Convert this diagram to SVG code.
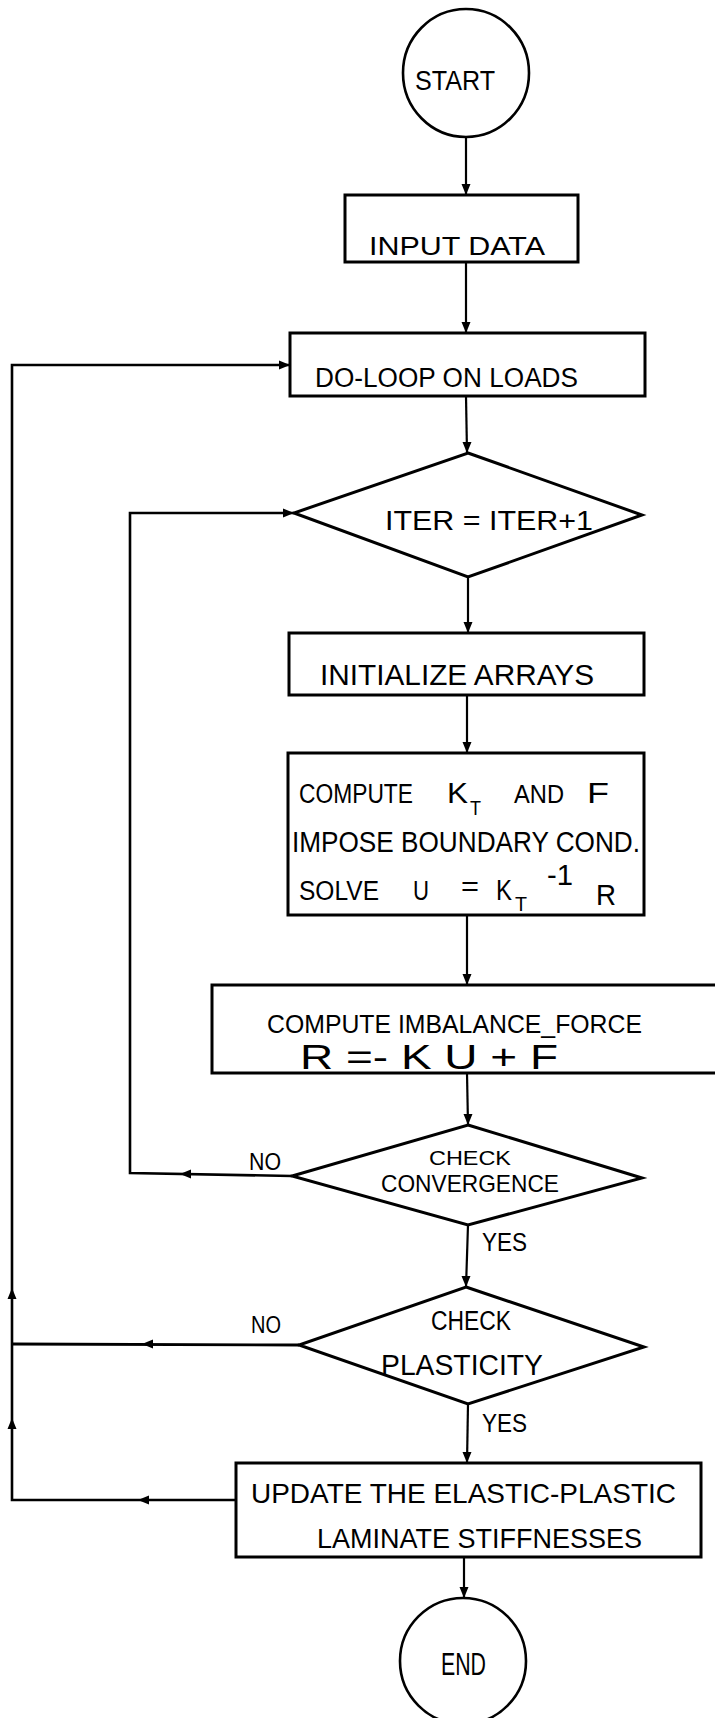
<svg xmlns="http://www.w3.org/2000/svg" width="715" height="1718" viewBox="0 0 715 1718">
<style>
.sh{fill:none;stroke:#000;stroke-width:3;stroke-linejoin:miter}
.cn{fill:none;stroke:#000;stroke-width:2.2}
.t{font-family:"Liberation Sans",Arial,sans-serif;fill:#000}
</style>
<defs>
<path id="ah" d="M0,0 L-11,-4.5 L-11,4.5 Z" fill="#000"/>
</defs>
<rect width="715" height="1718" fill="#fff"/>

<g id="connectors">
<line class="cn" x1="466" y1="137" x2="466" y2="195"/>
<use href="#ah" transform="translate(466,195) rotate(90)"/>
<line class="cn" x1="466" y1="262" x2="466" y2="333"/>
<use href="#ah" transform="translate(466,333) rotate(90)"/>
<line class="cn" x1="466" y1="396" x2="467" y2="453"/>
<use href="#ah" transform="translate(467,453) rotate(90)"/>
<line class="cn" x1="468" y1="577" x2="468" y2="633"/>
<use href="#ah" transform="translate(468,633) rotate(90)"/>
<line class="cn" x1="467" y1="695" x2="467" y2="753"/>
<use href="#ah" transform="translate(467,753) rotate(90)"/>
<line class="cn" x1="467" y1="915" x2="467" y2="985"/>
<use href="#ah" transform="translate(467,985) rotate(90)"/>
<line class="cn" x1="467" y1="1073" x2="468" y2="1125"/>
<use href="#ah" transform="translate(468,1125) rotate(90)"/>
<line class="cn" x1="468" y1="1225" x2="466" y2="1287"/>
<use href="#ah" transform="translate(466,1287) rotate(90)"/>
<line class="cn" x1="468" y1="1404" x2="467" y2="1463"/>
<use href="#ah" transform="translate(467,1463) rotate(90)"/>
<line class="cn" x1="464" y1="1558" x2="464" y2="1598"/>
<use href="#ah" transform="translate(464,1598) rotate(90)"/>
<!-- inner loop -->
<polyline class="cn" points="292,1176 130,1173 130,513 294,513" style="stroke-width:2.6"/>
<use href="#ah" transform="translate(180,1174) rotate(180)"/>
<use href="#ah" transform="translate(294,513)"/>
<!-- outer loop -->
<polyline class="cn" points="299,1345 12,1344" style="stroke-width:2.8"/>
<polyline class="cn" points="236,1500 12,1500 12,365 290,365" style="stroke-width:2.6"/>
<use href="#ah" transform="translate(142,1344) rotate(180)"/>
<use href="#ah" transform="translate(138,1500) rotate(180)"/>
<use href="#ah" transform="translate(12,1288) rotate(-90)"/>
<use href="#ah" transform="translate(12,1418) rotate(-90)"/>
<use href="#ah" transform="translate(290,365)"/>
<text class="t" x="249" y="1170" font-size="24" textLength="32" lengthAdjust="spacingAndGlyphs">NO</text>
<text class="t" x="251" y="1333" font-size="24" textLength="30" lengthAdjust="spacingAndGlyphs">NO</text>
<text class="t" x="482" y="1251" font-size="25" textLength="45" lengthAdjust="spacingAndGlyphs">YES</text>
<text class="t" x="482" y="1432" font-size="25" textLength="45" lengthAdjust="spacingAndGlyphs">YES</text>
</g>

<g id="start">
<ellipse class="sh" cx="466" cy="73" rx="63" ry="64" style="stroke-width:2.6"/>
<text class="t" x="415" y="90" font-size="27" textLength="80" lengthAdjust="spacingAndGlyphs">START</text>
</g>

<g id="input">
<rect class="sh" x="345" y="195" width="233" height="67"/>
<text class="t" x="369" y="255" font-size="25" textLength="176" lengthAdjust="spacingAndGlyphs">INPUT  DATA</text>
</g>

<g id="doloop">
<rect class="sh" x="290" y="333" width="355" height="63"/>
<text class="t" x="315" y="387" font-size="27" textLength="263" lengthAdjust="spacingAndGlyphs">DO-LOOP ON LOADS</text>
</g>

<g id="iter">
<polygon class="sh" points="468,453 642,515 468,577 294,513"/>
<text class="t" x="385" y="530" font-size="27" textLength="208" lengthAdjust="spacingAndGlyphs">ITER = ITER+1</text>
</g>

<g id="init">
<rect class="sh" x="289" y="633" width="355" height="62"/>
<text class="t" x="320" y="685" font-size="29" textLength="274" lengthAdjust="spacingAndGlyphs">INITIALIZE ARRAYS</text>
</g>

<g id="compute">
<rect class="sh" x="288" y="753" width="356" height="162"/>
<text class="t" x="299" y="803" font-size="27" textLength="114" lengthAdjust="spacingAndGlyphs">COMPUTE</text>
<text class="t" x="447" y="803" font-size="30" textLength="21" lengthAdjust="spacingAndGlyphs">K</text>
<text class="t" x="470" y="815" font-size="20" textLength="11" lengthAdjust="spacingAndGlyphs">T</text>
<text class="t" x="514" y="803" font-size="25" textLength="50" lengthAdjust="spacingAndGlyphs">AND</text>
<text class="t" x="587" y="803" font-size="30" textLength="22" lengthAdjust="spacingAndGlyphs">F</text>
<text class="t" x="292" y="852" font-size="29" textLength="348" lengthAdjust="spacingAndGlyphs">IMPOSE BOUNDARY COND.</text>
<text class="t" x="299" y="900" font-size="27" textLength="80" lengthAdjust="spacingAndGlyphs">SOLVE</text>
<text class="t" x="413" y="900" font-size="27" textLength="16" lengthAdjust="spacingAndGlyphs">U</text>
<text class="t" x="461" y="896" font-size="27" textLength="18" lengthAdjust="spacingAndGlyphs">=</text>
<text class="t" x="496" y="900" font-size="30" textLength="16" lengthAdjust="spacingAndGlyphs">K</text>
<text class="t" x="515" y="911" font-size="20" textLength="12" lengthAdjust="spacingAndGlyphs">T</text>
<text class="t" x="547" y="885" font-size="30" textLength="26" lengthAdjust="spacingAndGlyphs">-1</text>
<text class="t" x="596" y="905" font-size="30" textLength="20" lengthAdjust="spacingAndGlyphs">R</text>
</g>

<g id="imbalance">
<rect class="sh" x="212" y="985" width="520" height="88"/>
<text class="t" x="267" y="1033" font-size="25" textLength="375" lengthAdjust="spacingAndGlyphs">COMPUTE  IMBALANCE_FORCE</text>
<text class="t" x="300" y="1069" font-size="35" textLength="258" lengthAdjust="spacingAndGlyphs">R  =- K  U   +  F</text>
</g>

<g id="convergence">
<polygon class="sh" points="468,1125 642,1178 468,1225 292,1176"/>
<text class="t" x="429" y="1165" font-size="20" textLength="82" lengthAdjust="spacingAndGlyphs">CHECK</text>
<text class="t" x="381" y="1192" font-size="24" textLength="178" lengthAdjust="spacingAndGlyphs">CONVERGENCE</text>
</g>

<g id="plasticity">
<polygon class="sh" points="466,1287 644,1347 468,1404 299,1345"/>
<text class="t" x="431" y="1330" font-size="27" textLength="80" lengthAdjust="spacingAndGlyphs">CHECK</text>
<text class="t" x="381" y="1375" font-size="29" textLength="162" lengthAdjust="spacingAndGlyphs">PLASTICITY</text>
</g>

<g id="update">
<rect class="sh" x="236" y="1463" width="465" height="94"/>
<text class="t" x="251" y="1503" font-size="28" textLength="425" lengthAdjust="spacingAndGlyphs">UPDATE THE ELASTIC-PLASTIC</text>
<text class="t" x="317" y="1548" font-size="27" textLength="325" lengthAdjust="spacingAndGlyphs">LAMINATE STIFFNESSES</text>
</g>

<g id="end">
<ellipse class="sh" cx="463" cy="1661" rx="63" ry="63" style="stroke-width:2.6"/>
<text class="t" x="441" y="1675" font-size="31" textLength="45" lengthAdjust="spacingAndGlyphs">END</text>
</g>
</svg>
